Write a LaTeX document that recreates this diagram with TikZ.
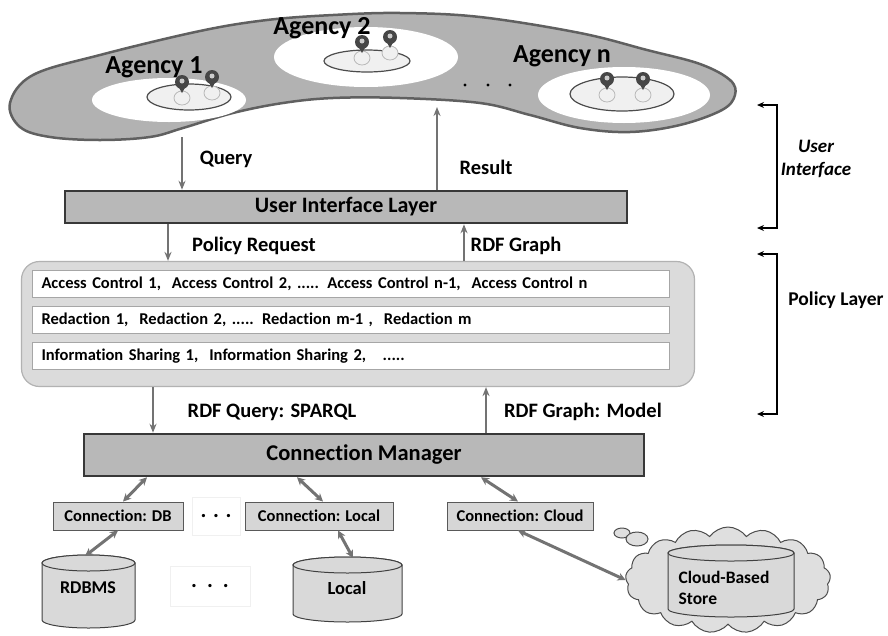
\documentclass[tikz,border=0pt]{standalone}
\usepackage{fontspec}
\setmainfont{Carlito}[Ligatures=NoCommon]
\usetikzlibrary{shapes.geometric,shapes.symbols,arrows.meta}

\definecolor{blobgray}{gray}{0.70}
\definecolor{layergray}{gray}{0.72}
\definecolor{panelgray}{gray}{0.86}
\definecolor{connfill}{gray}{0.84}
\definecolor{linegray}{gray}{0.45}
\definecolor{edgedark}{gray}{0.22}

% one agent in an agency: light base with a dark pin head
\newcommand{\agent}[2]{%
	\fill[gray!12,draw=gray!55,line width=0.8] (#1,#2) ellipse (8 and 7);
	\fill[gray!55!black] (#1-5,#2-14) -- (#1,#2-5) -- (#1+5,#2-14) -- cycle;
	\fill[gray!55!black] (#1,#2-16) circle (7);
	\fill[gray!40] (#1,#2-17) circle (2.5);
}
% a data store drum: centre x, top y, x radius, y radius, body height
\newcommand{\drum}[5]{%
	\draw[store] (#1-#3,#2) -- (#1-#3,#2+#5) arc[start angle=180,end angle=0,x radius=#3,y radius=#4] -- (#1+#3,#2) arc[start angle=0,end angle=-180,x radius=#3,y radius=#4] -- cycle;
	\draw[store] (#1,#2) ellipse (#3 and #4);
}

\begin{document}
\begin{tikzpicture}[x=1pt,y=-1pt]
					\useasboundingbox (0,0) rectangle (888,635);
					\tikzstyle{lbl}=[font=\fontsize{20.5}{24}\selectfont\bfseries]
					\tikzstyle{layer}=[draw=edgedark,line width=2.5,fill=layergray]
					\tikzstyle{row}=[draw=gray!70,line width=1,fill=white,minimum height=27,text width=619,inner xsep=9,align=left,font=\fontsize{16.5}{19}\selectfont\bfseries]
					\tikzstyle{conn}=[draw=gray!70!black,line width=1,fill=connfill,minimum height=28,font=\fontsize{16.5}{19}\selectfont\bfseries]
					\tikzstyle{store}=[draw=gray!50!black,line width=1,fill=gray!30]
					\tikzstyle{dotbox}=[draw=gray!12,line width=0.6,font=\fontsize{22}{24}\selectfont\bfseries]
					\tikzstyle{flow}=[draw=linegray,line width=1.6,-{Stealth[length=9pt,width=7pt]}]
					\tikzstyle{link}=[draw=linegray,line width=3,{Stealth[length=8pt,width=8pt]}-{Stealth[length=8pt,width=8pt]}]
					\tikzstyle{brk}=[draw=black,line width=2,{Stealth[length=7pt,width=6pt]}-{Stealth[length=7pt,width=6pt]}]

					% agencies
					\draw[fill=blobgray,draw=edgedark!80,line width=2.5] plot[smooth cycle,tension=0.6] coordinates {
						(10,103) (33,75) (100,55) (200,31) (267,20) (333,15) (400,13) (480,17)
						(580,33) (647,50) (700,64) (730,80) (735,95) (722,110) (680,125) (630,132)
						(580,128) (530,115) (480,103) (400,98) (333,98) (283,103) (233,113) (183,128)
						(150,137) (100,140) (50,137) (20,127)};
					\fill[white] (169,100) ellipse (77 and 22);
					\fill[white] (366,57) ellipse (92 and 30);
					\fill[white] (624,95) ellipse (86 and 28);
					\draw[fill=gray!12,draw=gray!60!black,line width=1.2] (189,97) ellipse (42 and 13);
					\draw[fill=gray!12,draw=gray!60!black,line width=1.2] (367,61) ellipse (43 and 11);
					\draw[fill=gray!12,draw=gray!60!black,line width=1.2] (622,94) ellipse (52 and 17);
					\agent{182}{98}
					\agent{212}{93}
					\agent{362}{58}
					\agent{390}{53}
					\agent{607}{95}
					\agent{643}{95}
					\path (154,67) node[font=\fontsize{26}{29}\selectfont\bfseries] (ag1) {Agency 1};
					\path (322,28) node[font=\fontsize{26}{29}\selectfont\bfseries] (ag2) {Agency 2};
					\path (562,56) node[font=\fontsize{26}{29}\selectfont\bfseries] (agn) {Agency n};
					\foreach \x in {465,488,510}
						\fill[black] (\x,85) circle (1.6);

					% user interface layer
					\path (346,207) node[layer,minimum width=562,minimum height=32,font=\fontsize{22}{26}\selectfont\bfseries] (ui) {User Interface Layer};
					\coordinate (qry) at (182,137);
					\coordinate (res) at (437,107);
					\draw[flow] (qry) -- (qry |- ui.north);
					\draw[flow] (res |- ui.north) -- (res);
					\path (226,159) node[lbl] (qlbl) {Query};
					\path (486,167) node[lbl] (rlbl) {Result};

					% policy layer
					\path (358,324) node[draw=gray!60,line width=1.2,fill=panelgray,rounded corners=18,minimum width=673,minimum height=125] (pol) {};
					\path (351,284) node[row] (acc) {Access Control 1,\ \ Access Control 2,\ ..... Access Control n-1,\ \ Access Control n};
					\path (351,320) node[row] (red) {Redaction 1,\ \ Redaction 2,\ ..... Redaction m-1 ,\ \ Redaction m};
					\path (351,356) node[row] (shr) {Information Sharing 1,\ \ Information Sharing 2,\ \ \ .....};
					\coordinate (preq) at (168,0);
					\coordinate (pres) at (464,0);
					\draw[flow] (preq |- ui.south) -- (preq |- pol.north);
					\draw[flow] (pres |- pol.north) -- (pres |- ui.south);
					\path (254,246) node[lbl] (plbl) {Policy Request};
					\path (516,246) node[lbl] (glbl) {RDF Graph};

					% connection manager
					\path (364,455) node[layer,minimum width=560,minimum height=42,font=\fontsize{22.5}{26}\selectfont\bfseries] (cm) {Connection Manager};
					\coordinate (sq) at (153,0);
					\coordinate (md) at (486,0);
					\draw[flow] (sq |- pol.south) -- (sq |- cm.north);
					\draw[flow] (md |- cm.north) -- (md |- pol.south);
					\path (272,412) node[lbl] (sqlbl) {RDF Query: SPARQL};
					\path (583,412) node[lbl] (mdlbl) {RDF Graph: Model};

					% connections and stores
					\path (118,516) node[conn,minimum width=130] (cdb) {Connection: DB};
					\path (216,516) node[dotbox,minimum width=48,minimum height=38] (cdots) {. . .};
					\path (319,516) node[conn,minimum width=148] (cloc) {Connection: Local};
					\path (520,516) node[conn,minimum width=146] (ccld) {Connection: Cloud};
					\drum{88.5}{563}{46.5}{8}{57}
					\coordinate (rdbms) at (85,556);
					\path (88,588) node[font=\fontsize{18}{21}\selectfont\bfseries] (rdbmslbl) {RDBMS};
					\path (210,586) node[dotbox,minimum width=80,minimum height=40] (sdots) {.\ \ .\ \ .};
					\drum{347.5}{565}{54.5}{8}{49}
					\coordinate (loc) at (353,558);
					\path (347,588) node[font=\fontsize{18.5}{21}\selectfont\bfseries] (loclbl) {Local};
					\draw[fill=gray!25,draw=gray!60!black,line width=1] (622,533) ellipse (8 and 5);
					\draw[fill=gray!25,draw=gray!60!black,line width=1] (637,539) ellipse (11 and 7);
					\path (728,580) node[cloud,cloud puffs=17,cloud puff arc=110,aspect=2,draw=gray!60!black,line width=1,fill=gray!25,minimum width=205,minimum height=106] (cloud) {};
					\drum{731}{553}{63}{8}{56}
					\path (724,588) node[align=left,font=\fontsize{17.5}{21}\selectfont\bfseries] (cstorelbl) {Cloud-Based\\Store};
					\draw[link] ([xshift=-217]cm.south) -- ([xshift=5]cdb.north);
					\draw[link] ([xshift=-67]cm.south) -- ([xshift=4]cloc.north);
					\draw[link] ([xshift=117]cm.south) -- ([xshift=-2]ccld.north);
					\draw[link] (cdb.south) -- (rdbms);
					\draw[link] ([xshift=19]cloc.south) -- (loc);
					\draw[link] ([xshift=-2]ccld.south) -- (cloud.west);

					% layer brackets
					\coordinate (uitop) at (757,105);
					\coordinate (uibot) at (757,228);
					\coordinate (ptop) at (757,254);
					\coordinate (pbot) at (757,414);
					\draw[brk] (uitop) -- (777,105) -- (777,228) -- (uibot);
					\draw[brk] (ptop) -- (777,254) -- (777,414) -- (pbot);
					\path (816,159) node[align=center,font=\fontsize{19}{23}\selectfont\bfseries\itshape] (uiname) {User\\Interface};
					\path (836,300) node[font=\fontsize{19.5}{22}\selectfont\bfseries] (pname) {Policy Layer};
\end{tikzpicture}
\end{document}
